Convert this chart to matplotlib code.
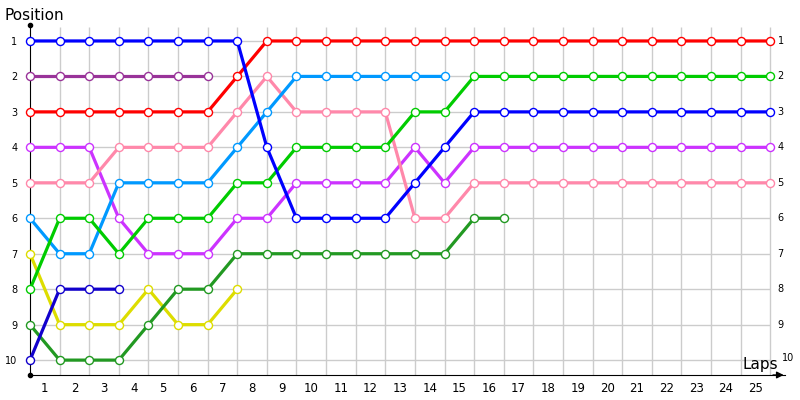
# Race position chart: position of each driver per lap.
# Output: out.png (800x400)

import matplotlib
matplotlib.use("Agg")
import matplotlib.pyplot as plt

LAPS = list(range(0, 26))
POSITIONS = list(range(1, 11))
LAP_LABELS = [str(i) for i in range(1, 26)]

# position per lap, each series starts at lap 0 and stops where the driver retired
YELLOW = [7, 9, 9, 9, 8, 9, 9, 8]
DARK_GREEN = [9, 10, 10, 10, 9, 8, 8, 7, 7, 7, 7, 7, 7, 7, 7, 6, 6]
DARK_BLUE = [10, 8, 8, 8]
MAGENTA = [4, 4, 4, 6, 7, 7, 7, 6, 6, 5, 5, 5, 5, 4, 5, 4,
           4, 4, 4, 4, 4, 4, 4, 4, 4, 4]
PINK = [5, 5, 5, 4, 4, 4, 4, 3, 2, 3, 3, 3, 3, 6, 6, 5,
        5, 5, 5, 5, 5, 5, 5, 5, 5, 5]
LIGHT_BLUE = [6, 7, 7, 5, 5, 5, 5, 4, 3, 2, 2, 2, 2, 2, 2]
GREEN = [8, 6, 6, 7, 6, 6, 6, 5, 5, 4, 4, 4, 4, 3, 3, 2,
         2, 2, 2, 2, 2, 2, 2, 2, 2, 2]
PURPLE = [2, 2, 2, 2, 2, 2, 2]
RED = [3, 3, 3, 3, 3, 3, 3, 2, 1, 1, 1, 1, 1, 1, 1, 1,
       1, 1, 1, 1, 1, 1, 1, 1, 1, 1]
BLUE = [1, 1, 1, 1, 1, 1, 1, 1, 4, 6, 6, 6, 6, 5, 4, 3,
        3, 3, 3, 3, 3, 3, 3, 3, 3, 3]

SERIES = [
    (YELLOW, "#dddd00"),
    (DARK_GREEN, "#229922"),
    (DARK_BLUE, "#1100cc"),
    (MAGENTA, "#cc33ff"),
    (PINK, "#ff88aa"),
    (LIGHT_BLUE, "#0099ff"),
    (GREEN, "#00cc00"),
    (PURPLE, "#993399"),
    (RED, "#ff0000"),
    (BLUE, "#0000ff"),
]


def main():
    fig = plt.figure(figsize=(8, 4), dpi=100)
    ax = fig.add_axes([30 / 800, 25 / 400, 755 / 800, 350 / 400])
    ax.set_xlim(0, 25.5)
    ax.set_ylim(10.42, 0.55)

    # grid, drawn by hand so it stops at the last lap
    ax.hlines(POSITIONS, 0, LAPS[-1], color="#cccccc", linewidth=1, zorder=1)
    ax.vlines(LAPS[1:], 10.42, 0.62, color="#cccccc", linewidth=1, zorder=1)

    for values, color in SERIES:
        ax.plot(LAPS[:len(values)], values, color=color, linewidth=2.3,
                marker="o", markersize=5.8, markerfacecolor="white",
                markeredgecolor=color, markeredgewidth=1.0, zorder=3,
                clip_on=False)

    for side in ("top", "right"):
        ax.spines[side].set_visible(False)
    ax.spines["left"].set_color("black")
    ax.spines["bottom"].set_color("black")
    ax.spines["left"].set_zorder(2)

    ax.set_xticks([i + 0.5 for i in range(len(LAP_LABELS))])
    ax.set_xticklabels(LAP_LABELS, fontsize=8.5)
    ax.set_yticks(POSITIONS)
    ax.set_yticklabels([str(p) for p in POSITIONS], fontsize=7)
    ax.tick_params(axis="both", length=0)
    ax.tick_params(axis="x", pad=5)
    ax.tick_params(axis="y", pad=9)

    # right side labels
    for p in POSITIONS:
        yoff = -0.05 if p == 10 else 0
        xoff = 0.15 if p == 10 else 0
        ax.text(LAPS[-1] + 0.25 + xoff, p + yoff, str(p), fontsize=7,
                ha="left", va="center")

    # axis end markers
    ax.plot([0, 0], [0.55, 10.42], marker="o", markersize=3, color="black",
            linestyle="None", clip_on=False, zorder=4)
    ax.annotate("", xy=(25.55, 10.42), xytext=(25.0, 10.42),
                arrowprops=dict(arrowstyle="-|>", color="black", lw=1,
                                mutation_scale=10),
                annotation_clip=False)

    fig.text(5 / 800, 1 - 15 / 400, "Position", fontsize=11, va="center",
             ha="left")
    fig.text(742 / 800, 1 - 365 / 400, "Laps", fontsize=11, va="center",
             ha="left")

    fig.savefig("out.png", dpi=100)


if __name__ == "__main__":
    main()
